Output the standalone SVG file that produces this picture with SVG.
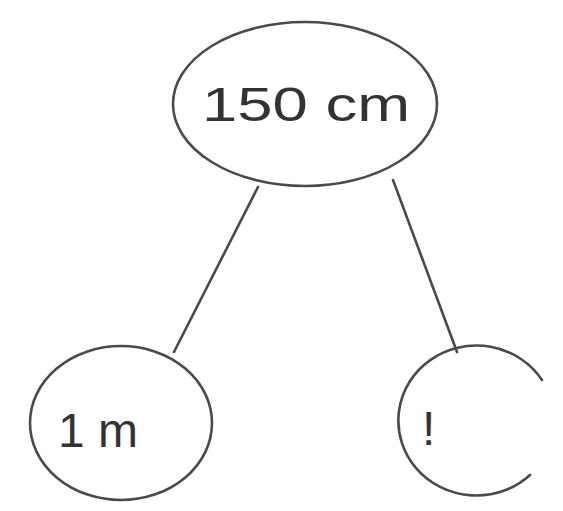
<svg xmlns="http://www.w3.org/2000/svg" width="563" height="511" viewBox="0 0 563 511">
<style>
.s{fill:none;stroke:#4a4a4a;stroke-width:2.6;stroke-linecap:round}
.t{font-family:"Liberation Sans",Arial,sans-serif;fill:#333;font-size:48px}
</style>
<rect width="563" height="511" fill="#fff"/>
<g id="connectors">
<path class="s" d="M258 187 L174 352"/>
<path class="s" d="M393 180 L457 352"/>
</g>
<g id="n150">
<ellipse class="s" cx="305" cy="104" rx="132" ry="82"/>
<text class="t" x="202" y="121" textLength="208" lengthAdjust="spacingAndGlyphs">150 cm</text>
</g>
<g id="n1m">
<ellipse class="s" cx="121" cy="423" rx="91" ry="77"/>
<text class="t" x="58" y="447" font-size="46">1 m</text>
</g>
<g id="nq">
<path class="s" d="M542 380 A78 75 0 1 0 530 475"/>
<text class="t" x="422" y="445" font-size="46">!</text>
</g>
</svg>
